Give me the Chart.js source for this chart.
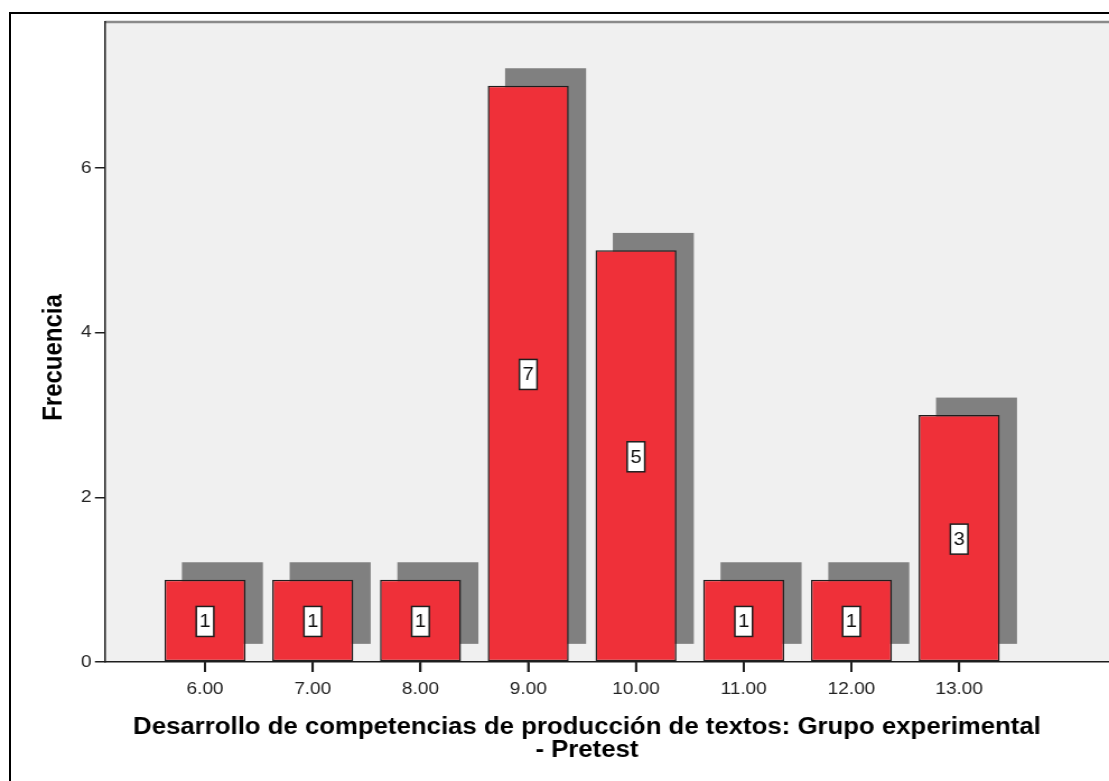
<!DOCTYPE html>
<html>
<head>
<meta charset="utf-8">
<script src="https://cdn.jsdelivr.net/npm/chart.js@4.4.1/dist/chart.umd.min.js"></script>
<style>
  html, body { margin: 0; padding: 0; background: #fff; overflow: hidden; }
  #wrap { position: relative; width: 1109px; height: 781px; overflow: hidden; }
  #frame {
    position: absolute; left: 9px; top: 12px; width: 1300px; height: 1000px;
    border-left: 2px solid #000; border-top: 2px solid #000;
  }
  #chart { position: absolute; left: 0; top: 0; }
</style>
</head>
<body>
<div id="wrap">
  <div id="frame"></div>
  <!-- drawn 990 wide, shown 1109 wide (the SPSS export is stretched sideways) -->
  <canvas id="chart" width="990" height="781" style="width:1109px;height:781px"></canvas>
</div>
<script>
// Frequencies per score
const SCORES = [6, 7, 8, 9, 10, 11, 12, 13];
const COUNTS = [1, 1, 1, 7, 5, 1, 1, 3];
const Y_TICKS = [0, 2, 4, 6];
const X_TITLE = ['Desarrollo de competencias de producción de textos: Grupo experimental', '- Pretest'];
const Y_TITLE = 'Frecuencia';

const FONT = '"Liberation Sans", Arial, sans-serif';
const BAR_RED = '#EF3039';
const SHADOW = '#808080';
const INK = '#1e1e1e';

// grey plot background and top edge
const plotBackground = {
  id: 'plotBackground',
  beforeDraw(chart) {
    const { ctx, chartArea: a } = chart;
    ctx.save();
    ctx.fillStyle = '#F0F0F0';
    ctx.fillRect(a.left, a.top, a.right - a.left, a.bottom - a.top);
    ctx.strokeStyle = '#8a8a8a';
    ctx.lineWidth = 2.5;
    ctx.beginPath();
    ctx.moveTo(a.left, a.top);
    ctx.lineTo(a.right, a.top);
    ctx.stroke();
    ctx.restore();
  }
};

// flat drop shadow behind each bar
const barShadow = {
  id: 'barShadow',
  beforeDatasetsDraw(chart) {
    const { ctx, chartArea: a } = chart;
    const dx = 15.5, dy = -17.4;
    ctx.save();
    ctx.beginPath();
    ctx.rect(a.left, a.top, a.right - a.left, a.bottom - a.top);
    ctx.clip();
    ctx.fillStyle = SHADOW;
    chart.getDatasetMeta(0).data.forEach(bar => {
      const { x, y, base, width } = bar.getProps(['x', 'y', 'base', 'width'], true);
      ctx.fillRect(x - width / 2 + dx, y + dy, width, base - y);
    });
    ctx.restore();
  }
};

// boxed count in the middle of each bar
const valueBoxes = {
  id: 'valueBoxes',
  afterDatasetsDraw(chart) {
    const { ctx } = chart;
    const values = chart.data.datasets[0].data;
    const w = 15.7, h = 30;
    ctx.save();
    ctx.font = '18px ' + FONT;
    ctx.textAlign = 'center';
    ctx.textBaseline = 'middle';
    chart.getDatasetMeta(0).data.forEach((bar, i) => {
      const { x, y, base } = bar.getProps(['x', 'y', 'base'], true);
      const cy = (y + base) / 2 + 1;
      ctx.fillStyle = '#fff';
      ctx.fillRect(x - w / 2, cy - h / 2, w, h);
      ctx.strokeStyle = INK;
      ctx.lineWidth = 1.5;
      ctx.strokeRect(x - w / 2, cy - h / 2, w, h);
      ctx.fillStyle = '#111';
      ctx.fillText(String(values[i].y), x, cy + 1);
    });
    ctx.restore();
  }
};

// x tick marks, then the axis titles (placed as SPSS places them, not centred on the plot)
const axisTitles = {
  id: 'axisTitles',
  afterDraw(chart) {
    const { ctx, scales: { x } } = chart;
    ctx.save();
    ctx.strokeStyle = INK;
    ctx.lineWidth = 1.8;
    ctx.beginPath();
    x.ticks.forEach(t => {
      const px = x.getPixelForValue(t.value);
      ctx.moveTo(px, x.top);
      ctx.lineTo(px, x.top + 10);
    });
    ctx.stroke();

    ctx.fillStyle = '#000';
    ctx.font = 'bold 23px ' + FONT;
    ctx.textAlign = 'center';
    ctx.textBaseline = 'alphabetic';
    ctx.fillText(X_TITLE[0], 524, 734);
    ctx.fillText(X_TITLE[1], 524, 757);
    ctx.translate(55, 357.5);
    ctx.rotate(-Math.PI / 2);
    ctx.font = 'bold 24px ' + FONT;
    ctx.fillText(Y_TITLE, 0, 0);
    ctx.restore();
  }
};

const tickFont = { family: FONT, size: 17 };

new Chart(document.getElementById('chart'), {
  type: 'bar',
  data: {
    datasets: [{
      data: SCORES.map((s, i) => ({ x: s, y: COUNTS[i] })),
      backgroundColor: BAR_RED,
      borderColor: INK,
      borderWidth: 1.5,
      borderSkipped: false,
      categoryPercentage: 1,
      barPercentage: 0.752,
    }],
  },
  options: {
    responsive: false,
    animation: false,
    layout: { padding: { top: 22, left: 0, right: 0, bottom: 0 } },
    plugins: {
      legend: { display: false },
      tooltip: { enabled: false },
    },
    scales: {
      x: {
        type: 'linear',
        min: 5.0716,
        max: 14.391,
        offset: false,
        afterBuildTicks: s => { s.ticks = SCORES.map(v => ({ value: v })); },
        afterFit: s => { s.height = 119; },
        ticks: {
          callback: v => Number(v).toFixed(2),
          font: tickFont, color: '#222', padding: 7,
          maxRotation: 0, autoSkip: false,
        },
        grid: { offset: false, drawOnChartArea: false, tickLength: 10, color: INK, lineWidth: 1.8 },
        border: { color: INK, width: 1.5 },
      },
      y: {
        min: 0,
        max: 7.773,
        afterBuildTicks: s => { s.ticks = Y_TICKS.map(v => ({ value: v })); },
        afterFit: s => { s.width = 93.75; },
        ticks: { font: tickFont, color: '#222', padding: 3 },
        grid: { drawOnChartArea: false, tickLength: 9, color: INK, lineWidth: 1.5 },
        border: { color: INK, width: 1.5 },
      },
    },
  },
  plugins: [plotBackground, barShadow, valueBoxes, axisTitles],
});
</script>
</body>
</html>
